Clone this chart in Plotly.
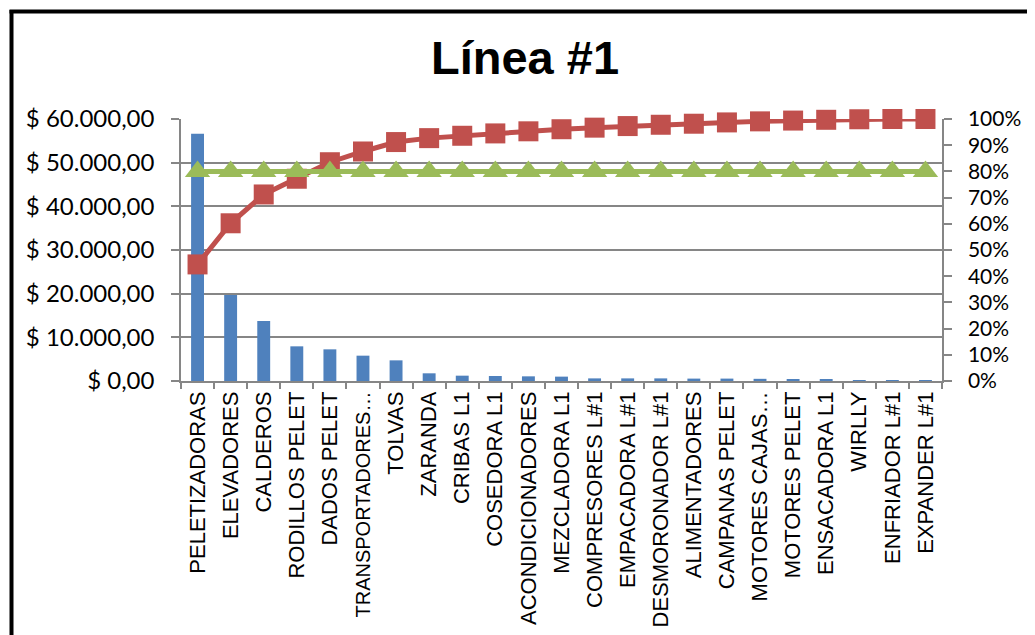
import plotly.graph_objects as go

categories = [
    "PELETIZADORAS", "ELEVADORES", "CALDEROS", "RODILLOS PELET", "DADOS PELET",
    "TRANSPORTADORES…", "TOLVAS", "ZARANDA", "CRIBAS L1", "COSEDORA L1",
    "ACONDICIONADORES", "MEZCLADORA L1", "COMPRESORES L#1", "EMPACADORA L#1",
    "DESMORONADOR L#1", "ALIMENTADORES", "CAMPANAS PELET", "MOTORES CAJAS…",
    "MOTORES PELET", "ENSACADORA L1", "WIRLLY", "ENFRIADOR L#1", "EXPANDER L#1",
]
costs = [56600, 19700, 13740, 7940, 7250, 5800, 4730, 1760, 1220, 1150, 1070, 1000,
         600, 600, 600, 550, 550, 500, 400, 250, 150, 50, 20]
cum_pct = [44.5, 60.2, 71.2, 77.2, 83.5, 87.6, 91.2, 92.7, 93.6, 94.5, 95.3, 96.1,
           96.7, 97.3, 97.8, 98.2, 98.7, 99.1, 99.4, 99.7, 99.9, 100.0, 100.0]
target_pct = [80, 80, 80, 80, 80, 80, 80, 80, 80, 80, 80, 80,
              80, 80, 80, 80, 80, 80, 80, 80, 80, 80, 80]

left_tickvals = [0, 10000, 20000, 30000, 40000, 50000, 60000]
left_ticktext = ["$ 0,00", "$ 10.000,00", "$ 20.000,00", "$ 30.000,00",
                 "$ 40.000,00", "$ 50.000,00", "$ 60.000,00"]
right_tickvals = [0, 10, 20, 30, 40, 50, 60, 70, 80, 90, 100]
right_ticktext = ["0%", "10%", "20%", "30%", "40%", "50%", "60%", "70%", "80%", "90%", "100%"]

title_text = "Línea #1"

# longest category label gets a slightly smaller size so it fits the page
x_ticktext = [("<span style='font-size:20px'>" + c + "</span>") if len(c) > 15 and c.startswith("TRANSP")
              else c for c in categories]

# page body has an 8px margin; the figure is sized to fit the window
OFF = 8
W, H = 1035 - OFF, 635 - OFF
PLOT_L, PLOT_R, PLOT_T, PLOT_B = 181, 942, 119, 381   # page pixels
ML, MR = PLOT_L - OFF, W - (PLOT_R - OFF)
MT, MB = PLOT_T - OFF, H - (PLOT_B - OFF)
PW, PH = PLOT_R - PLOT_L, PLOT_B - PLOT_T

def px_x(px):
    return (px - PLOT_L) / PW

def px_y(py):
    return (PLOT_B - py) / PH

GRID = "#868686"

fig = go.Figure()
fig.add_trace(go.Bar(x=categories, y=costs, marker=dict(color="#4F81BD", line=dict(width=0)),
                     yaxis="y", showlegend=False))
fig.add_trace(go.Scatter(x=categories, y=cum_pct, yaxis="y2", mode="lines+markers",
                         line=dict(color="#C0504D", width=5),
                         marker=dict(symbol="square", size=20, color="#C0504D"),
                         cliponaxis=False, showlegend=False))
fig.add_trace(go.Scatter(x=categories, y=target_pct, yaxis="y2", mode="lines+markers",
                         line=dict(color="#9BBB59", width=5),
                         marker=dict(symbol="triangle-up", size=22, color="#9BBB59"),
                         cliponaxis=False, showlegend=False))

fig.update_layout(
    width=W, height=H, autosize=False,
    margin=dict(l=ML, r=MR, t=MT, b=MB, pad=0),
    paper_bgcolor="white", plot_bgcolor="white",
    bargap=0.61,
    showlegend=False,
    xaxis=dict(type="category", range=[-0.5, len(categories) - 0.5], autorange=False,
               tickmode="array", tickvals=categories, ticktext=x_ticktext,
               automargin=False, showline=True, linecolor=GRID, linewidth=1.5,
               ticks="outside", tickson="boundaries", ticklen=6, tickcolor=GRID, tickwidth=1.5,
               tickangle=-90, showgrid=False,
               tickfont=dict(family="Liberation Sans, Arial", size=22, color="black")),
    yaxis=dict(range=[0, 60000], autorange=False, automargin=False,
               tickvals=left_tickvals, ticktext=left_ticktext,
               showgrid=True, gridcolor=GRID, gridwidth=1.5, zeroline=False,
               showline=True, linecolor=GRID, linewidth=1.5,
               ticks="outside", ticklen=8, tickcolor=GRID, tickwidth=1.5,
               ticklabelstandoff=12,
               tickfont=dict(family="Lato, Open Sans", size=24, color="black")),
    yaxis2=dict(range=[0, 100], autorange=False, automargin=False,
                tickvals=right_tickvals, ticktext=right_ticktext,
                overlaying="y", side="right", showgrid=False, zeroline=False,
                showline=True, linecolor=GRID, linewidth=1.5,
                ticks="outside", ticklen=8, tickcolor=GRID, tickwidth=1.5,
                ticklabelstandoff=12,
                tickfont=dict(family="Lato, Open Sans", size=21, color="black")),
    annotations=[dict(text="<b>" + title_text + "</b>", xref="paper", yref="paper",
                      x=px_x(525), y=px_y(58), xanchor="center", yanchor="middle",
                      showarrow=False,
                      font=dict(family="Liberation Sans, Arial", size=47, color="black"))],
    shapes=[
        dict(type="line", xref="paper", yref="paper", x0=px_x(11.5), x1=px_x(11.5),
             y0=px_y(10), y1=px_y(650), line=dict(color="black", width=4)),
        dict(type="line", xref="paper", yref="paper", x0=px_x(9.5), x1=px_x(1045),
             y0=px_y(11.5), y1=px_y(11.5), line=dict(color="black", width=4)),
    ],
)

fig.write_html("out.html")
